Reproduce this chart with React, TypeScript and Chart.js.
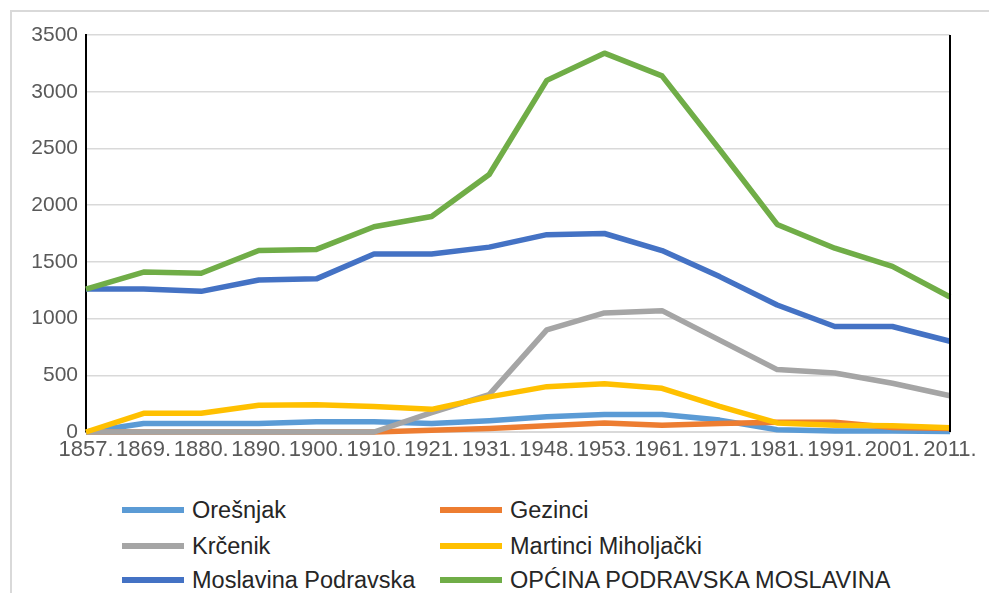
import React, { useEffect, useRef } from "react";
import { Chart, registerables } from "chart.js";
Chart.register(...registerables);

const years = ["1857.", "1869.", "1880.", "1890.", "1900.", "1910.", "1921.", "1931.", "1948.", "1953.", "1961.", "1971.", "1981.", "1991.", "2001.", "2011."];
const oresnjak = [0, 75, 75, 75, 90, 90, 75, 100, 135, 155, 155, 105, 20, 8, 8, 5];
const gezinci = [0, 0, 0, 0, 0, 0, 15, 30, 55, 80, 60, 75, 85, 85, 40, 30];
const krcenik = [0, 0, 0, 0, 0, 0, 170, 330, 900, 1050, 1070, 810, 550, 520, 430, 320];
const martinci = [0, 165, 165, 235, 240, 225, 200, 310, 400, 425, 385, 225, 80, 60, 55, 38];
const moslavina = [1260, 1260, 1240, 1340, 1350, 1570, 1570, 1630, 1740, 1750, 1600, 1370, 1120, 930, 930, 800];
const opcina = [1260, 1410, 1400, 1600, 1610, 1810, 1900, 2270, 3100, 3340, 3140, 2490, 1830, 1620, 1460, 1190];

const seriesNames = ["Orešnjak", "Gezinci", "Krčenik", "Martinci Miholjački", "Moslavina Podravska", "OPĆINA PODRAVSKA MOSLAVINA"];
const seriesColors = ["#5B9BD5", "#ED7D31", "#A5A5A5", "#FFC000", "#4472C4", "#70AD47"];
const seriesData = [oresnjak, gezinci, krcenik, martinci, moslavina, opcina];

const FONT = "'Liberation Sans', Arial, sans-serif";

const rightBorder = {
  id: "rightBorder",
  afterDraw(chart: any) {
    const { ctx, chartArea } = chart;
    ctx.save();
    ctx.strokeStyle = "#000";
    ctx.lineWidth = 2;
    ctx.beginPath();
    ctx.moveTo(chartArea.right, chartArea.top);
    ctx.lineTo(chartArea.right, chartArea.bottom);
    ctx.stroke();
    ctx.restore();
  },
};

export default function App() {
  const ref = useRef<HTMLCanvasElement>(null);
  useEffect(() => {
    if (!ref.current) return;
    const chart = new Chart(ref.current, {
      type: "line",
      data: {
        labels: years,
        datasets: seriesData.map((d, i) => ({
          label: seriesNames[i],
          data: d,
          borderColor: seriesColors[i],
          backgroundColor: seriesColors[i],
          borderWidth: 5.5,
          pointRadius: 0,
          tension: 0,
          borderJoinStyle: "round" as const,
          clip: 6,
          order: 10 - i,
        })),
      },
      options: {
        animation: false,
        responsive: false,
        maintainAspectRatio: false,
        layout: { padding: { left: 0, right: 39, top: 35, bottom: 0 } },
        plugins: { legend: { display: false }, tooltip: { enabled: false } },
        scales: {
          x: {
            offset: false,
            grid: { display: false, drawTicks: false },
            border: { display: true, color: "#d9d9d9", width: 1 },
            ticks: {
              autoSkip: false,
              maxRotation: 0,
              minRotation: 0,
              padding: 5,
              color: "#595959",
              font: { family: FONT, size: 22 },
            },
            afterFit(scale: any) {
              scale.height = 48;
            },
          },
          y: {
            min: 0,
            max: 3500,
            ticks: {
              stepSize: 500,
              padding: 8,
              color: "#595959",
              font: { family: FONT, size: 21 },
              callback: (v: any) => String(v),
            },
            grid: { color: "#d9d9d9", lineWidth: 1.5, drawTicks: false },
            border: { display: true, color: "#000", width: 2 },
            afterFit(scale: any) {
              scale.width = 86;
            },
          },
        },
      },
      plugins: [rightBorder],
    });
    return () => chart.destroy();
  }, []);

  const legendRows = [
    [0, 1],
    [2, 3],
    [4, 5],
  ];
  const rowY = [510, 546, 580];
  const colX = [122, 440];

  return (
    <div style={{ position: "absolute", left: 0, top: 0, width: 989, height: 593, overflow: "hidden", background: "#fff" }}>
      <div style={{ position: "absolute", left: 10, top: 10, width: 1000, height: 600, border: "2px solid #d9d9d9", boxSizing: "border-box" }} />
      <canvas ref={ref} width={989} height={480} style={{ position: "absolute", left: 0, top: 0, width: 989, height: 480 }} />
      {legendRows.map((row, r) =>
        row.map((s, c) => (
          <div key={s} style={{ position: "absolute", left: colX[c], top: rowY[r] - 15, height: 30, display: "flex", alignItems: "center", fontFamily: FONT, fontSize: 23.5, color: "#262626", whiteSpace: "nowrap" }}>
            <span style={{ display: "inline-block", width: 62, height: 6, background: seriesColors[s], marginRight: 8 }} />
            <span>{seriesNames[s]}</span>
          </div>
        ))
      )}
    </div>
  );
}
